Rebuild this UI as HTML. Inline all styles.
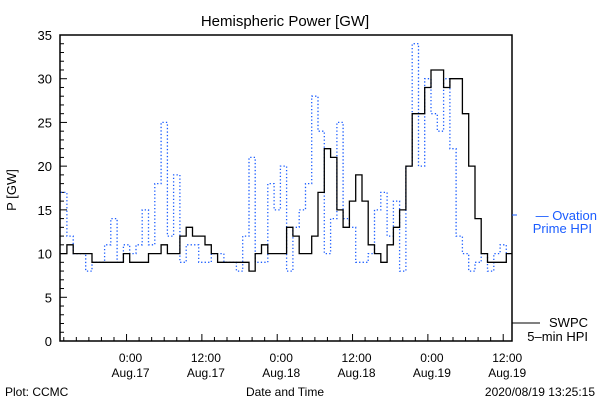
<!DOCTYPE html>
<html><head><meta charset="utf-8"><style>
body{margin:0;background:#fff;}
svg{display:block;font-family:"Liberation Sans",sans-serif;}
</style></head><body>
<svg id="chart" width="600" height="400" viewBox="0 0 600 400">
<rect width="600" height="400" fill="#fff"/>
<text x="285" y="26" font-size="15" text-anchor="middle">Hemispheric Power [GW]</text>
<text transform="translate(16,190) rotate(-90)" font-size="13" text-anchor="middle">P [GW]</text>
<g id="axes"></g>
<g id="series"></g>
<rect x="60" y="35" width="452" height="306" fill="none" stroke="#000" stroke-width="1.5"/>
<line x1="512" y1="215" x2="517" y2="215" stroke="#1a5cff" stroke-width="1"/>
<text x="597" y="220" font-size="13" fill="#1a5cff" text-anchor="end">— Ovation</text>
<text x="592" y="233" font-size="13" fill="#1a5cff" text-anchor="end">Prime HPI</text>
<line x1="512" y1="323" x2="540" y2="323" stroke="#000" stroke-width="1"/>
<text x="588" y="327" font-size="13" text-anchor="end">SWPC</text>
<text x="588" y="341" font-size="13" text-anchor="end">5–min HPI</text>
<text x="285" y="396" font-size="12" text-anchor="middle">Date and Time</text>
<text x="5" y="396" font-size="12">Plot: CCMC</text>
<text x="595" y="396" font-size="12" text-anchor="end">2020/08/19 13:25:15</text>
</svg>
<script>
// hours relative to Aug.17 00:00
const hours = [];
for (let h = -10; h <= 61; h++) hours.push(h);
const swpcValues = [10,11,10,10,10,9,9,9,9,9,10,9,9,9,10,10,11,10,10,12,13,12,12,11,10,9,9,9,9,9,8,10,11,10,10,10,13,12,10,10,12,17,22,21,15,13,16,19,16,11,10,9,11,13,15,20,26,26,29,31,31,29,30,30,26,20,14,10,9,9,9,10];
const ovationValues = [17,12,10,10,8,9,9,11,14,9,11,10,11,15,11,18,25,12,19,9,11,11,9,9,10,10,9,9,8,12,21,9,9,18,15,20,8,13,15,18,28,24,10,14,25,14,13,9,9,10,15,17,12,16,8,20,34,20,30,26,24,30,22,12,10,8,9,10,8,10,11,10];
const yTicks = [0,5,10,15,20,25,30,35];
const xTickHours = [0,12,24,36,48,60];
const xTickLabels = [["0:00","Aug.17"],["12:00","Aug.17"],["0:00","Aug.18"],["12:00","Aug.18"],["0:00","Aug.19"],["12:00","Aug.19"]];

const X0=60,X1=512,Y0=341,Y1=35;
const hMin=-10.6, hMax=61.4, vMax=35;
const xs = h => X0 + (h-hMin)/(hMax-hMin)*(X1-X0);
const ys = v => Y0 - v/vMax*(Y0-Y1);
const NS="http://www.w3.org/2000/svg";
const axes=document.getElementById('axes');
const series=document.getElementById('series');
function mk(tag,attrs,parent){const e=document.createElementNS(NS,tag);for(const k in attrs)e.setAttribute(k,attrs[k]);parent.appendChild(e);return e;}

for(let v=0;v<=vMax;v++){
  const major = v%5===0;
  const t=mk('line',{x1:X0,x2:X0+(major?7:4),y1:ys(v),y2:ys(v),stroke:'#000'},axes);
  
  
}
yTicks.forEach(v=>{
  const t=mk('text',{x:52,y:ys(v)+5,'font-size':13,'text-anchor':'end'},axes);
  t.textContent=v;
  
  
});
for(let h=-10;h<=61;h+=2){
  const major = h%12===0;
  const t=mk('line',{x1:xs(h),x2:xs(h),y1:Y0,y2:Y0-(major?7:4),stroke:'#000'},axes);
  
  
}
xTickHours.forEach((h,i)=>{
  const t=mk('text',{x:xs(h)+4,y:362,'font-size':12,'text-anchor':'middle'},axes);
  t.textContent=xTickLabels[i][0];
  
  
  const t2=mk('text',{x:xs(h)+4,y:377,'font-size':12,'text-anchor':'middle'},axes);
  t2.textContent=xTickLabels[i][1];
  
  
});
function stepPath(vals){
  let d='';
  for(let i=0;i<hours.length;i++){
    const xa=xs(Math.max(hMin,hours[i]-0.5)), xb=xs(Math.min(hMax,hours[i]+0.5)), y=ys(vals[i]);
    d += (i===0?'M':'L')+xa.toFixed(1)+','+y.toFixed(1)+'L'+xb.toFixed(1)+','+y.toFixed(1);
  }
  return d;
}
const ov=mk('path',{d:stepPath(ovationValues),fill:'none',stroke:'#1a5cff','stroke-width':1.3,'stroke-dasharray':'1.3,2.2'},series);


const sw=mk('path',{d:stepPath(swpcValues),fill:'none',stroke:'#000','stroke-width':1.3},series);


</script>
</body></html>
